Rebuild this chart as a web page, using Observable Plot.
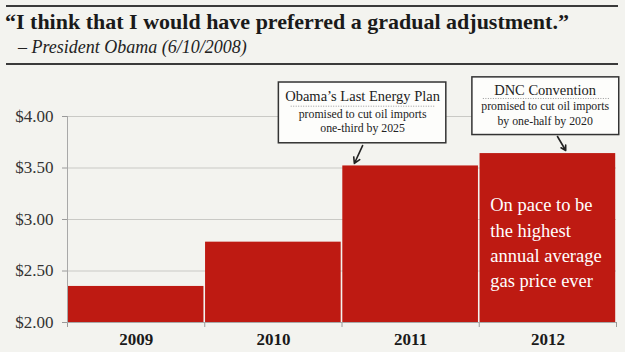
<!DOCTYPE html>
<html>
<head>
<meta charset="utf-8">
<script src="https://cdn.jsdelivr.net/npm/d3@7"></script>
<script src="https://cdn.jsdelivr.net/npm/@observablehq/plot@0.6"></script>
<style>
  html, body { margin: 0; padding: 0; background: #F3F3EF; }
  #wrap { width: 625px; height: 352px; position: relative; overflow: hidden; font-family: "Liberation Serif", serif; color: #1a1a1a; }
  #hdr { position: relative; width: 625px; height: 70px; }
  .rule { position: absolute; left: 6px; width: 612px; border-top: 2px solid #3a3a3a; }
  #title { position: absolute; left: 5px; top: 9px; font-weight: bold; font-size: 22px; white-space: nowrap; }
  #subtitle { position: absolute; left: 18px; top: 37px; font-style: italic; font-size: 18px; white-space: nowrap; color: #222; }
  #chart svg { display: block; overflow: visible; }
  g[aria-label^="y-axis"] text { fill: #333; }
</style>
</head>
<body>
<div id="wrap">
  <div id="hdr">
    <div class="rule" style="top:5px"></div>
    <div id="title"></div>
    <div id="subtitle"></div>
    <div class="rule" style="top:63px"></div>
  </div>
  <div id="chart"></div>
</div>
<script>
// ---- data ----
const title = "“I think that I would have preferred a gradual adjustment.”";
const subtitle = "– President Obama (6/10/2008)";
const years = [2009, 2010, 2011, 2012];
const prices = [2.35, 2.78, 3.52, 3.64];
const yTicks = [2.0, 2.5, 3.0, 3.5, 4.0];
const yearEdges = [2008.5, 2009.5, 2010.5, 2011.5, 2012.5];

// annotation callouts (anchored in data units)
const boxTitles = ["Obama’s Last Energy Plan", "DNC Convention"];
const boxNotes = ["promised to cut oil imports\none-third by 2025", "promised to cut oil imports\nby one-half by 2020"];
const boxLeft = [2010.04, 2011.45];
const boxRight = [2011.26, 2012.52];
const boxTop = [4.33, 4.38];
const boxBottom = [3.74, 3.82];
const boxCenter = [2010.65, 2011.98];
const boxTitleY = [4.155, 4.204];
const boxRuleY = [4.10, 4.175];
const boxRuleLeft = [2010.13, 2011.53];
const boxRuleRight = [2011.18, 2012.45];
const boxNoteY = [3.847, 3.922];
const arrowFromX = [2010.65, 2012.07];
const arrowFromY = [3.718, 3.806];
const arrowToX = [2010.59, 2012.13];
const arrowToY = [3.544, 3.670];
const recordNote = "On pace to be\nthe highest\nannual average\ngas price ever";
const recordYear = 2012;

// ---- build ----
document.getElementById("title").textContent = title;
document.getElementById("subtitle").textContent = subtitle;

const bars = years.map((y, i) => ({year: y, price: prices[i]}));
const boxes = boxTitles.map((t, i) => ({
  title: t, note: boxNotes[i], x1: boxLeft[i], x2: boxRight[i], y1: boxBottom[i], y2: boxTop[i],
  cx: boxCenter[i], ty: boxTitleY[i], ry: boxRuleY[i], rx1: boxRuleLeft[i], rx2: boxRuleRight[i], ny: boxNoteY[i],
  ax1: arrowFromX[i], ay1: arrowFromY[i], ax2: arrowToX[i], ay2: arrowToY[i]
}));
const record = bars.filter(d => d.year === recordYear);

const red = "#BE1A12";

const chart = Plot.plot({
  width: 625,
  height: 282,
  marginTop: 46,
  marginBottom: 30,
  marginLeft: 67,
  marginRight: 9,
  style: {background: "transparent", fontFamily: "Liberation Serif, serif", fontSize: "17px", color: "#9a9a9a", overflow: "visible"},
  x: {domain: [2008.5, 2012.5], ticks: yearEdges, tickFormat: () => "", tickSize: 5, label: null},
  y: {domain: [2, 4], ticks: yTicks, tickFormat: d3.format("$.2f"), tickSize: 5, tickPadding: 9, label: null},
  marks: [
    Plot.ruleY(yTicks.slice(1), {x1: yearEdges[0], x2: yearEdges[yearEdges.length - 1], stroke: "#c9c9c5", strokeWidth: 1}),
    Plot.rectY(bars, {x1: d => d.year - 0.5, x2: d => d.year + 0.5, y1: yTicks[0], y2: "price", fill: red, insetLeft: 0.8, insetRight: 0.8}),
    Plot.ruleX([yearEdges[0]], {y1: yTicks[0], y2: yTicks[yTicks.length - 1], stroke: "#a8a8a8"}),
    Plot.ruleY([yTicks[0]], {x1: yearEdges[0], x2: yearEdges[yearEdges.length - 1], stroke: "#a8a8a8"}),
    Plot.text(bars, {x: "year", y: yTicks[0], text: d => String(d.year), dy: 17, fontWeight: "bold", fontSize: 17, fill: "#1a1a1a"}),
    Plot.text(record, {x: d => d.year - 0.5, y: "price", text: () => recordNote, dx: 11, dy: 40, textAnchor: "start", lineAnchor: "top", lineHeight: 1.36, fontSize: 18.5, fill: "white"}),
    Plot.rect(boxes, {x1: "x1", x2: "x2", y1: "y1", y2: "y2", fill: "#FDFDFB", stroke: "#333", strokeWidth: 1.5}),
    Plot.text(boxes, {x: "cx", y: "ty", text: "title", lineAnchor: "bottom", fontSize: 14.5, fill: "#222"}),
    Plot.ruleY(boxes, {y: "ry", x1: "rx1", x2: "rx2", stroke: "#999", strokeDasharray: "1,1.5"}),
    Plot.text(boxes, {x: "cx", y: "ny", text: "note", lineAnchor: "bottom", lineHeight: 1.2, fontSize: 11.8, fill: "#222"}),
    Plot.arrow(boxes, {x1: "ax1", y1: "ay1", x2: "ax2", y2: "ay2", stroke: "#222", strokeWidth: 1.6, headLength: 9})
  ]
});
document.getElementById("chart").appendChild(chart);
</script>
</body>
</html>
